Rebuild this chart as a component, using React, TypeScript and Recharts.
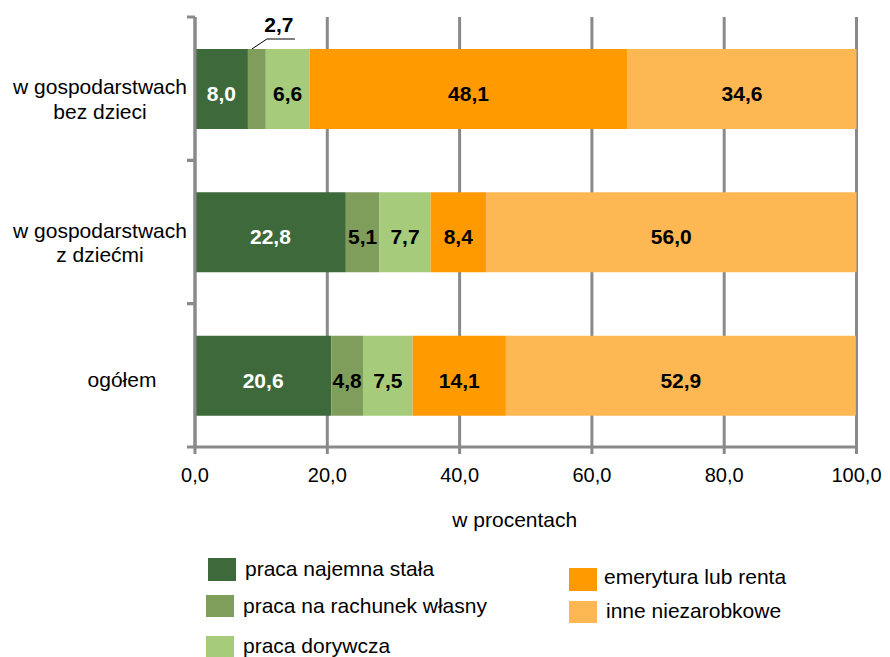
import React from 'react';
import { BarChart, Bar, XAxis, YAxis, CartesianGrid, Label } from 'recharts';

// ---- data ----
const categories = ['w gospodarstwach\nbez dzieci', 'w gospodarstwach\nz dziećmi', 'ogółem'];
const seriesNames = [
  'praca najemna stała',
  'praca na rachunek własny',
  'praca dorywcza',
  'emerytura lub renta',
  'inne niezarobkowe',
];
const pracaNajemnaStala = [8.0, 22.8, 20.6];
const pracaNaRachunekWlasny = [2.7, 5.1, 4.8];
const pracaDorywcza = [6.6, 7.7, 7.5];
const emeryturaLubRenta = [48.1, 8.4, 14.1];
const inneNiezarobkowe = [34.6, 56.0, 52.9];
const xTicks = [0, 20, 40, 60, 80, 100];
const xAxisTitle = 'w procentach';

// ---- styles ----
const seriesKeys = ['s0', 's1', 's2', 's3', 's4'];
const seriesColors = ['#3E6A3B', '#7F9E5B', '#A5CB7B', '#FF9A00', '#FDB753'];
const labelColors = ['#FFFFFF', '#000000', '#000000', '#000000', '#000000'];
const GRAY = '#8A8A8A';
const FONT = '"Liberation Sans", Arial, Helvetica, sans-serif';
const FS = 20;
const FS_LABEL = 21;
const FS_TEXT = 21;

const seriesValues = [pracaNajemnaStala, pracaNaRachunekWlasny, pracaDorywcza, emeryturaLubRenta, inneNiezarobkowe];
const data = categories.map((name, i) => {
  const row: any = { name };
  seriesKeys.forEach((k, j) => {
    row[k] = seriesValues[j][i];
  });
  return row;
});

// legend layout (positions only)
const legendLayout = [
  { x: 208, y: 558, w: 28, h: 23, tx: 245, ty: 570 },
  { x: 206, y: 595, w: 28, h: 22, tx: 243, ty: 607 },
  { x: 206, y: 636, w: 28, h: 22, tx: 243, ty: 647 },
  { x: 569, y: 568, w: 28, h: 23, tx: 604, ty: 578 },
  { x: 569, y: 601, w: 28, h: 22, tx: 606, ty: 612 },
];

const fmt = (v: number) => v.toFixed(1).replace('.', ',');

const YTick = (props: any) => {
  const { x, y, payload } = props;
  const half = typeof payload?.offset === 'number' && payload.offset > 0 ? payload.offset : 71.67;
  const lines = String(payload.value).split('\n');
  const cx = lines.length > 1 ? x - 87 : x - 65;
  return (
    <g>
      <line x1={x} x2={x + 8} y1={y - half} y2={y - half} stroke={GRAY} strokeWidth={3} />
      <line x1={x} x2={x + 8} y1={y + half} y2={y + half} stroke={GRAY} strokeWidth={3} />
      {lines.map((l, i) => (
        <text
          key={i}
          x={cx}
          y={y + (lines.length > 1 ? i * 24.5 : 6) + 0.27 * FS_TEXT}
          textAnchor="middle"
          fontFamily={FONT}
          fontSize={FS_TEXT}
          fill="#000"
        >
          {l}
        </text>
      ))}
    </g>
  );
};

const makeLabel = (seriesIdx: number) => (props: any) => {
  const { x, y, width, height, index } = props;
  const value = seriesValues[seriesIdx][index];
  if (value == null) return null;
  const cx = x + width / 2;
  const cy = y + height / 2;
  if (value < 3) {
    return (
      <g>
        <polyline
          points={`${x + 4},${y} ${x + 19},${y - 10} ${x + 47},${y - 10}`}
          fill="none"
          stroke="#000"
          strokeWidth={1}
        />
        <text
          x={x + 31}
          y={y - 24.5 + 0.358 * FS_LABEL}
          textAnchor="middle"
          fontFamily={FONT}
          fontWeight="bold"
          fontSize={FS_LABEL}
          fill="#000"
        >
          {fmt(value)}
        </text>
      </g>
    );
  }
  return (
    <text
      x={cx}
      y={cy + 4.5 + 0.358 * FS_LABEL}
      textAnchor="middle"
      fontFamily={FONT}
      fontWeight="bold"
      fontSize={FS_LABEL}
      fill={labelColors[seriesIdx]}
    >
      {fmt(value)}
    </text>
  );
};

export default function App() {
  return (
    <div style={{ position: 'absolute', left: 0, top: 0, width: 890, height: 657, background: '#fff' }}>
      <BarChart
        width={890}
        height={657}
        data={data}
        layout="vertical"
        margin={{ top: 17, right: 33.5, left: 0, bottom: 180 }}
      >
        <CartesianGrid horizontal={false} vertical={true} stroke={GRAY} strokeWidth={3} />
        <XAxis
          type="number"
          domain={[0, 100]}
          ticks={xTicks}
          interval={0}
          tickFormatter={fmt}
          tickSize={7}
          tickMargin={14}
          height={30}
          axisLine={{ stroke: GRAY, strokeWidth: 3 }}
          tickLine={{ stroke: GRAY, strokeWidth: 3 }}
          tick={{ fill: '#000', fontSize: FS, fontFamily: FONT }}
        >
          <Label
            value={xAxisTitle}
            position="bottom"
            offset={35}
            dx={-11}
            fill="#000"
            fontSize={FS_TEXT}
            fontFamily={FONT}
          />
        </XAxis>
        <YAxis
          type="category"
          dataKey="name"
          width={195}
          tickSize={8}
          tickMargin={0}
          tickLine={false}
          axisLine={{ stroke: GRAY, strokeWidth: 3 }}
          tick={<YTick />}
          interval={0}
        />
        {seriesKeys.map((k, i) => (
          <Bar
            key={k}
            dataKey={k}
            name={seriesNames[i]}
            stackId="a"
            fill={seriesColors[i]}
            barSize={80}
            isAnimationActive={false}
            label={makeLabel(i)}
          />
        ))}
      </BarChart>
      <svg
        width={890}
        height={657}
        style={{ position: 'absolute', left: 0, top: 0, pointerEvents: 'none' }}
      >
        {seriesNames.map((n, i) => {
          const L = legendLayout[i];
          return (
            <g key={n}>
              <rect x={L.x} y={L.y} width={L.w} height={L.h} fill={seriesColors[i]} />
              <text x={L.tx} y={L.ty + 0.27 * FS_TEXT} fontFamily={FONT} fontSize={FS_TEXT} fill="#000">
                {n}
              </text>
            </g>
          );
        })}
      </svg>
    </div>
  );
}
